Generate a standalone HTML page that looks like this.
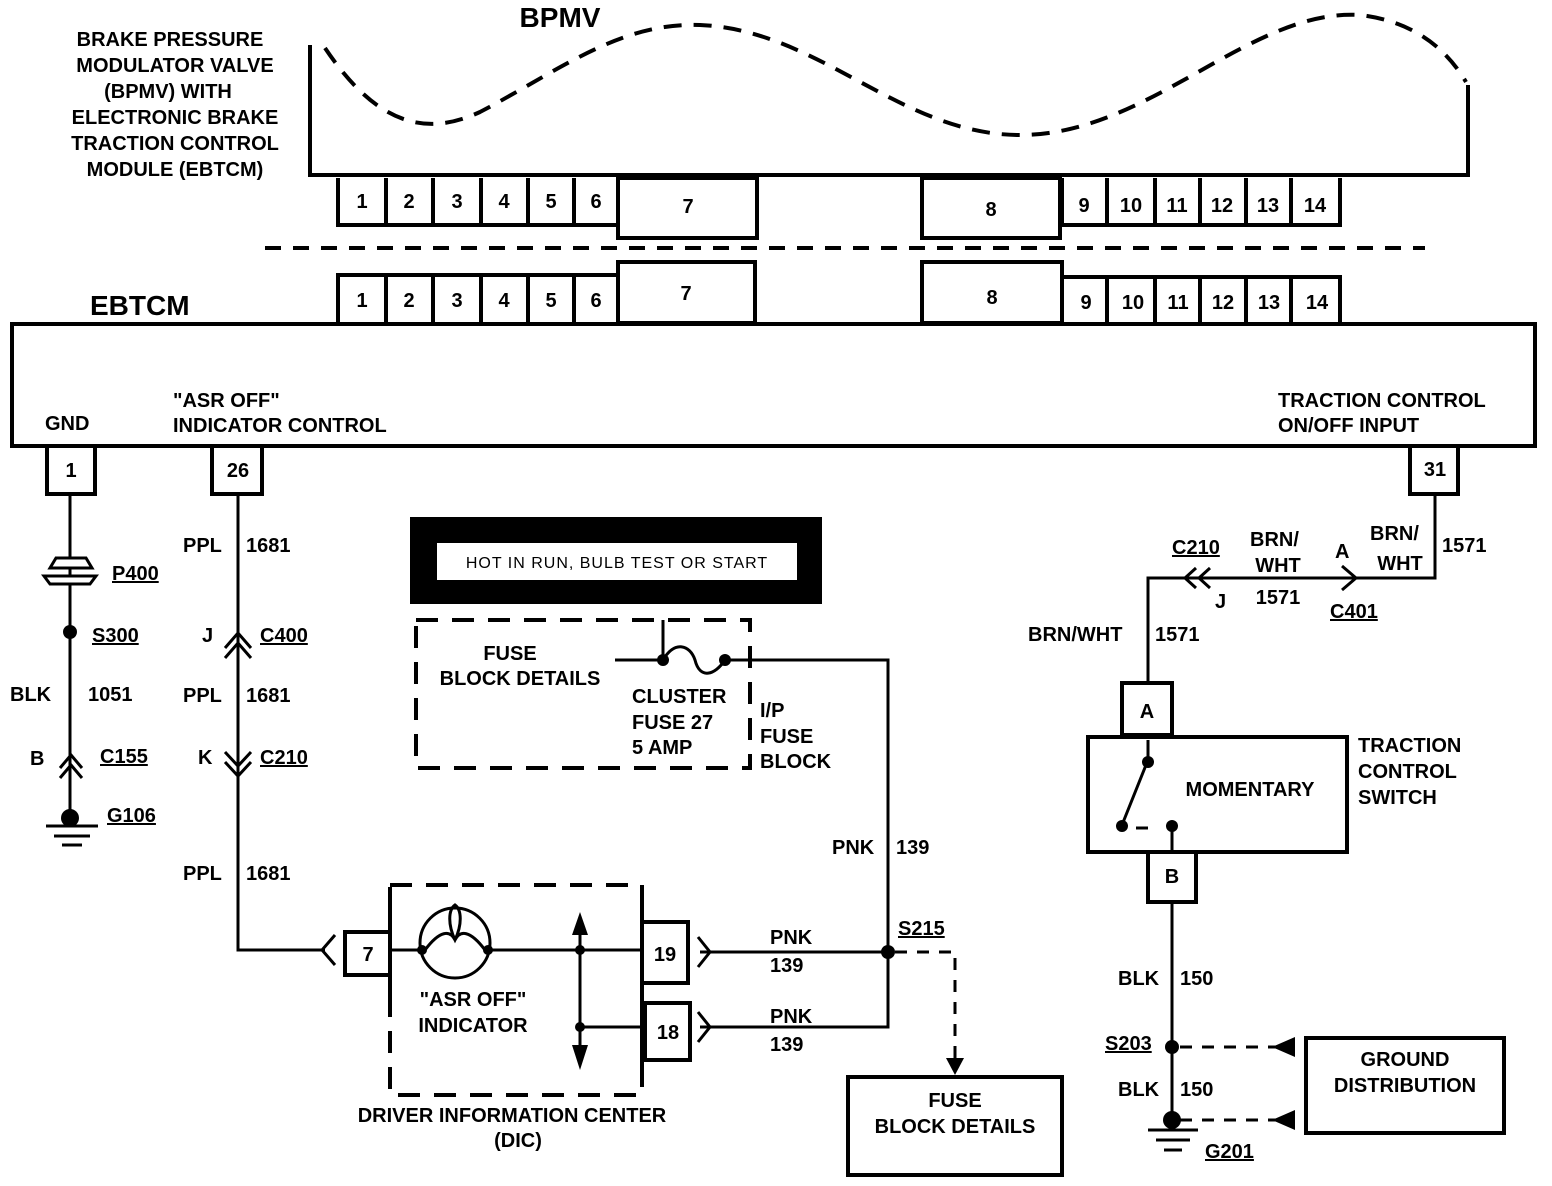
<!DOCTYPE html>
<html><head><meta charset="utf-8"><style>
html,body{margin:0;padding:0;background:#fff}
svg{display:block}
text{font-family:"Liberation Sans",sans-serif;font-weight:bold;font-size:20px;fill:#000}
.s{font-size:18px}
</style></head><body>
<svg width="1552" height="1186" viewBox="0 0 1552 1186" xmlns="http://www.w3.org/2000/svg">
<g fill="none" stroke="#000" stroke-width="4">
<path d="M310,45 V175 H1468 V85"/>
<path d="M325,48 C380,130 430,135 480,112 C560,70 620,22 700,25 C820,30 900,135 1020,135 C1150,135 1250,8 1360,15 C1420,22 1450,55 1466,82" stroke-dasharray="18,12"/>
<path d="M338,178 V225 H618 V178 M386,178 V225 M433,178 V225 M481,178 V225 M528,178 V225 M574,178 V225"/>
<rect x="618" y="178" width="139" height="60"/>
<rect x="922" y="178" width="138" height="60"/>
<path d="M1062,178 V225 H1340 V178 M1107,178 V225 M1155,178 V225 M1200,178 V225 M1246,178 V225 M1291,178 V225"/>
<line x1="265" y1="248" x2="1425" y2="248" stroke-dasharray="16,12"/>
<path d="M338,323 V275 H618 V323 M386,275 V323 M433,275 V323 M481,275 V323 M528,275 V323 M574,275 V323"/>
<rect x="618" y="262" width="137" height="61"/>
<rect x="922" y="262" width="140" height="61"/>
<path d="M1062,323 V277 H1340 V323 M1107,277 V323 M1155,277 V323 M1200,277 V323 M1246,277 V323 M1291,277 V323"/>
<rect x="12" y="324" width="1523" height="122"/>
<rect x="47" y="446" width="48" height="48"/>
<rect x="212" y="446" width="50" height="48"/>
<rect x="1410" y="446" width="48" height="48"/>
</g>
<g fill="none" stroke="#000" stroke-width="3">
<line x1="70" y1="494" x2="70" y2="818"/>
<path d="M50,568 L56,558 H86 L92,568 Z M44,576 H96 L90,584 H50 Z" fill="#fff"/>
<path d="M60,768 L71,755 L82,768 M60,778 L71,765 L82,778"/>
<line x1="46" y1="826" x2="98" y2="826"/><line x1="54" y1="836" x2="90" y2="836"/><line x1="62" y1="845" x2="82" y2="845"/>
<path d="M238,494 V950 H325"/>
<path d="M225,648 L238,633 L251,648 M225,658 L238,643 L251,658"/>
<path d="M225,752 L238,766 L251,752 M225,762 L238,776 L251,762"/>
<path d="M335,935 L322,950 L335,965"/>
<path d="M663,620 V660 M615,660 H663 M725,660 H888 V1027 H700 M888,952 H700"/>
<path d="M663,660 C675,640 690,645 695,660 C700,680 715,675 725,660"/>
<path d="M698,937 L710,952 L698,967 M698,1012 L710,1027 L698,1042"/>
<line x1="390" y1="905" x2="390" y2="1000" stroke-width="4"/>
<line x1="642" y1="905" x2="642" y2="1080" stroke-width="4"/>
<path d="M390,950 H420 M490,950 H642 M580,920 V1060 M580,1027 H645"/>
<circle cx="455" cy="943" r="35"/>
<path d="M425,950 C440,930 450,930 455,940 C460,930 470,930 485,950 M455,940 C448,925 448,910 455,905 C462,910 462,925 455,940"/>
<path d="M1435,494 V578 H1148 V683"/>
<path d="M1196,568 L1185,578 L1196,588 M1210,568 L1199,578 L1210,588"/>
<path d="M1342,566 L1356,578 L1342,590"/>
<path d="M1148,740 V760 L1122,825 M1172,828 V852 M1136,828 H1148"/>
<line x1="1172" y1="902" x2="1172" y2="1120"/>
<line x1="1148" y1="1130" x2="1198" y2="1130"/><line x1="1156" y1="1140" x2="1190" y2="1140"/><line x1="1164" y1="1150" x2="1182" y2="1150"/>
<path d="M1180,1047 H1280 M1180,1120 H1280" stroke-dasharray="12,10"/>
<path d="M895,952 H955 V1060" stroke-dasharray="12,10"/>
<rect x="416" y="620" width="334" height="148" stroke-dasharray="22,14" stroke-width="4"/>
<rect x="390" y="885" width="252" height="210" stroke-dasharray="22,14" stroke-width="4"/>
</g>
<g fill="#000">
<circle cx="70" cy="632" r="7"/><circle cx="70" cy="818" r="9"/>
<circle cx="663" cy="660" r="6"/><circle cx="725" cy="660" r="6"/>
<circle cx="888" cy="952" r="7"/>
<circle cx="422" cy="950" r="5"/><circle cx="488" cy="950" r="5"/>
<circle cx="580" cy="950" r="5"/><circle cx="580" cy="1027" r="5"/>
<path d="M572,935 L580,912 L588,935 Z M572,1045 L580,1070 L588,1045 Z"/>
<path d="M946,1058 L955,1075 L964,1058 Z"/>
<circle cx="1148" cy="762" r="6"/><circle cx="1122" cy="826" r="6"/><circle cx="1172" cy="826" r="6"/>
<circle cx="1172" cy="1047" r="7"/><circle cx="1172" cy="1120" r="9"/>
<path d="M1295,1037 L1272,1047 L1295,1057 Z M1295,1110 L1272,1120 L1295,1130 Z"/>
<rect x="410" y="517" width="412" height="87"/>
</g>
<rect x="437" y="543" width="360" height="37" fill="#fff"/>
<g fill="none" stroke="#000" stroke-width="4">
<rect x="345" y="932" width="45" height="43" fill="#fff"/>
<rect x="642" y="922" width="46" height="61" fill="#fff"/>
<rect x="645" y="1003" width="45" height="57" fill="#fff"/>
<rect x="1122" y="683" width="50" height="52" fill="#fff"/>
<rect x="1088" y="737" width="259" height="115"/>
<rect x="1148" y="852" width="48" height="50" fill="#fff"/>
<rect x="1306" y="1038" width="198" height="95"/>
<rect x="848" y="1077" width="214" height="98"/>
</g>
<text x="560" y="27" text-anchor="middle" style="font-size:28px">BPMV</text>
<g text-anchor="middle">
<text x="170" y="46">BRAKE PRESSURE</text>
<text x="175" y="72">MODULATOR VALVE</text>
<text x="168" y="98">(BPMV) WITH</text>
<text x="175" y="124">ELECTRONIC BRAKE</text>
<text x="175" y="150">TRACTION CONTROL</text>
<text x="175" y="176">MODULE (EBTCM)</text>
<g class="s">
<text x="362" y="208">1</text><text x="409" y="208">2</text><text x="457" y="208">3</text><text x="504" y="208">4</text><text x="551" y="208">5</text><text x="596" y="208">6</text>
<text x="688" y="213">7</text><text x="991" y="216">8</text>
<text x="1084" y="212">9</text><text x="1131" y="212">10</text><text x="1177" y="212">11</text><text x="1222" y="212">12</text><text x="1268" y="212">13</text><text x="1315" y="212">14</text>
<text x="362" y="307">1</text><text x="409" y="307">2</text><text x="457" y="307">3</text><text x="504" y="307">4</text><text x="551" y="307">5</text><text x="596" y="307">6</text>
<text x="686" y="300">7</text><text x="992" y="304">8</text>
<text x="1086" y="309">9</text><text x="1133" y="309">10</text><text x="1178" y="309">11</text><text x="1223" y="309">12</text><text x="1269" y="309">13</text><text x="1317" y="309">14</text>
<text x="71" y="477">1</text><text x="238" y="477">26</text><text x="1435" y="476">31</text>
<text x="368" y="961">7</text><text x="665" y="961">19</text><text x="668" y="1039">18</text>
<text x="1147" y="718">A</text><text x="1172" y="883">B</text>
</g>
<text x="617" y="568" class="s" style="font-weight:normal;font-size:16px;letter-spacing:1px">HOT IN RUN, BULB TEST OR START</text>
<text x="510" y="660">FUSE</text><text x="520" y="685">BLOCK DETAILS</text>
<text x="473" y="1006">"ASR OFF"</text><text x="473" y="1032">INDICATOR</text>
<text x="512" y="1122">DRIVER INFORMATION CENTER</text><text x="518" y="1147">(DIC)</text>
<text x="955" y="1107">FUSE</text><text x="955" y="1133">BLOCK DETAILS</text>
<text x="1250" y="796">MOMENTARY</text>
<text x="1405" y="1066">GROUND</text><text x="1405" y="1092">DISTRIBUTION</text>
<text x="1278" y="572">WHT</text><text x="1400" y="570">WHT</text><text x="1278" y="604">1571</text>
</g>
<text x="90" y="315" style="font-size:28px">EBTCM</text>
<text x="45" y="430">GND</text>
<text x="173" y="407">"ASR OFF"</text><text x="173" y="432">INDICATOR CONTROL</text>
<text x="1278" y="407">TRACTION CONTROL</text><text x="1278" y="432">ON/OFF INPUT</text>
<text x="112" y="580" text-decoration="underline">P400</text>
<text x="92" y="642" text-decoration="underline">S300</text>
<text x="10" y="701">BLK</text><text x="88" y="701">1051</text>
<text x="30" y="765">B</text><text x="100" y="763" text-decoration="underline">C155</text>
<text x="107" y="822" text-decoration="underline">G106</text>
<text x="183" y="552">PPL</text><text x="246" y="552">1681</text>
<text x="202" y="642">J</text><text x="260" y="642" text-decoration="underline">C400</text>
<text x="183" y="702">PPL</text><text x="246" y="702">1681</text>
<text x="198" y="764">K</text><text x="260" y="764" text-decoration="underline">C210</text>
<text x="183" y="880">PPL</text><text x="246" y="880">1681</text>
<text x="632" y="703">CLUSTER</text><text x="632" y="729">FUSE 27</text><text x="632" y="754">5 AMP</text>
<text x="760" y="717">I/P</text><text x="760" y="743">FUSE</text><text x="760" y="768">BLOCK</text>
<text x="832" y="854">PNK</text><text x="896" y="854">139</text>
<text x="770" y="944">PNK</text><text x="770" y="972">139</text>
<text x="770" y="1023">PNK</text><text x="770" y="1051">139</text>
<text x="898" y="935" text-decoration="underline">S215</text>
<text x="1172" y="554" text-decoration="underline">C210</text>
<text x="1250" y="546">BRN/</text><text x="1370" y="540">BRN/</text>
<text x="1442" y="552">1571</text>
<text x="1335" y="558">A</text><text x="1215" y="608">J</text>
<text x="1330" y="618" text-decoration="underline">C401</text>
<text x="1028" y="641">BRN/WHT</text><text x="1155" y="641">1571</text>
<text x="1358" y="752">TRACTION</text><text x="1358" y="778">CONTROL</text><text x="1358" y="804">SWITCH</text>
<text x="1118" y="985">BLK</text><text x="1180" y="985">150</text>
<text x="1105" y="1050" text-decoration="underline">S203</text>
<text x="1118" y="1096">BLK</text><text x="1180" y="1096">150</text>
<text x="1205" y="1158" text-decoration="underline">G201</text>
</svg>
</body></html>
